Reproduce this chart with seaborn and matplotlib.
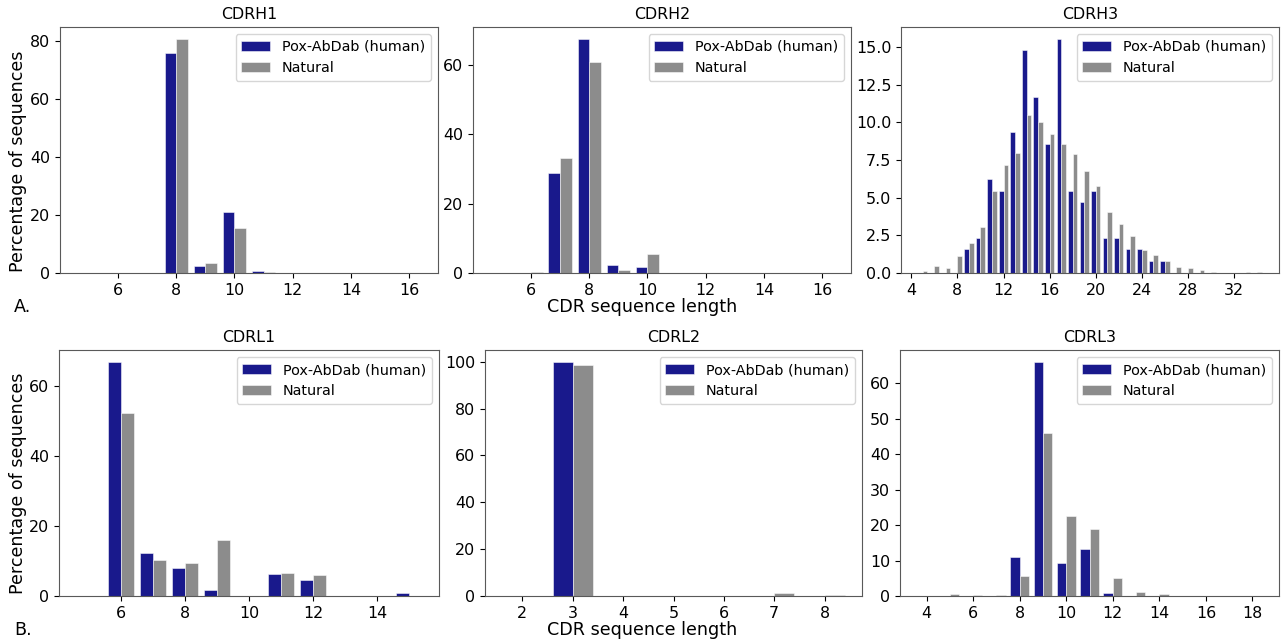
import numpy as np
import pandas as pd
import matplotlib
matplotlib.use("Agg")
import matplotlib.pyplot as plt
import seaborn as sns

# CDR length distributions (% of sequences)
cdrh1_len = list(range(5, 17))
cdrh1_pox = [0, 0, 0, 75.9, 2.4, 21.0, 0.8, 0, 0, 0, 0, 0]
cdrh1_nat = [0, 0, 0, 80.9, 3.4, 15.7, 0.3, 0.05, 0, 0, 0, 0]

cdrh2_len = list(range(5, 17))
cdrh2_pox = [0, 0, 28.8, 67.5, 2.4, 1.6, 0, 0, 0, 0, 0, 0]
cdrh2_nat = [0, 0.3, 33.1, 60.7, 0.9, 5.4, 0.05, 0, 0, 0, 0, 0]

cdrh3_len = list(range(5, 35))
cdrh3_pox = [0, 0, 0, 0, 1.56, 2.34, 6.25, 5.47, 9.38, 14.8, 11.7, 8.59, 15.55,
             5.47, 4.69, 5.47, 2.34, 2.34, 1.56, 1.56, 0.78, 0.78,
             0, 0, 0, 0, 0, 0, 0, 0]
cdrh3_nat = [0.1, 0.44, 0.3, 1.12, 2.0, 3.05, 5.43, 7.2, 7.95, 10.5, 10.05, 9.25, 8.58,
             7.92, 6.8, 5.77, 4.05, 3.27, 2.47, 1.54, 1.17, 0.79,
             0.37, 0.33, 0.22, 0.09, 0.03, 0.02, 0.07, 0.07]

cdrl1_len = list(range(5, 16))
cdrl1_pox = [0, 66.8, 12.4, 7.9, 1.7, 0, 6.3, 4.7, 0, 0, 0.8]
cdrl1_nat = [0, 52.1, 10.4, 9.3, 15.9, 0, 6.6, 6.0, 0, 0, 0]

cdrl2_len = list(range(2, 9))
cdrl2_pox = [0, 100.0, 0, 0, 0, 0, 0]
cdrl2_nat = [0, 98.4, 0, 0, 0, 1.4, 0.4]

cdrl3_len = list(range(4, 19))
cdrl3_pox = [0, 0, 0, 0, 10.9, 66.0, 9.3, 13.3, 0.8, 0, 0, 0, 0, 0, 0]
cdrl3_nat = [0, 0.56, 0.28, 0.37, 5.6, 45.9, 22.4, 19.0, 5.06, 1.03, 0.47, 0.05, 0.05, 0.03, 0.03]

series_names = ["Pox-AbDab (human)", "Natural"]

panels = [
    ("CDRH1", cdrh1_len, cdrh1_pox, cdrh1_nat, [6, 8, 10, 12, 14, 16]),
    ("CDRH2", cdrh2_len, cdrh2_pox, cdrh2_nat, [6, 8, 10, 12, 14, 16]),
    ("CDRH3", cdrh3_len, cdrh3_pox, cdrh3_nat, [4, 8, 12, 16, 20, 24, 28, 32]),
    ("CDRL1", cdrl1_len, cdrl1_pox, cdrl1_nat, [6, 8, 10, 12, 14]),
    ("CDRL2", cdrl2_len, cdrl2_pox, cdrl2_nat, [2, 3, 4, 5, 6, 7, 8]),
    ("CDRL3", cdrl3_len, cdrl3_pox, cdrl3_nat, [4, 6, 8, 10, 12, 14, 16, 18]),
]

W, H = 1284, 644
# axes boxes in pixels: left, top, right, bottom
boxes = [
    (60, 27, 438, 273), (473, 27, 851, 273), (901, 27, 1279, 273),
    (59, 350, 439, 596), (485, 350, 862, 596), (900, 350, 1279, 596),
]

fig = plt.figure(figsize=(W / 100, H / 100), dpi=100)

for (name, lens, pox, nat, xt), (l, t, r, b) in zip(panels, boxes):
    ax = fig.add_axes([l / W, 1 - b / H, (r - l) / W, (b - t) / H])
    df = pd.DataFrame({
        "length": lens * 2,
        "pct": list(pox) + list(nat),
        "dataset": [series_names[0]] * len(lens) + [series_names[1]] * len(lens),
    })
    sns.barplot(data=df, x="length", y="pct", hue="dataset", native_scale=True,
                palette=["navy", "grey"], saturation=1, alpha=0.9, errorbar=None,
                edgecolor="white", linewidth=0.4, ax=ax)
    ax.set_xticks(xt)
    ax.set_xlabel("")
    ax.set_ylabel("")
    ax.set_title(name, fontsize=11.4)
    ax.tick_params(labelsize=11.4)
    for sp in ax.spines.values():
        sp.set_color("0.35")
    leg = ax.get_legend()
    handles = leg.legend_handles
    labels = [tx.get_text() for tx in leg.get_texts()]
    leg.remove()
    ax.legend(handles, labels, loc="upper right", fontsize=10.4)

lab = 12.6
fig.text(642 / W, 1 - 307 / H, "CDR sequence length", ha="center", va="center", fontsize=lab)
fig.text(642 / W, 1 - 630 / H, "CDR sequence length", ha="center", va="center", fontsize=lab)
fig.text(18 / W, 1 - 161 / H, "Percentage of sequences", rotation=90, ha="center", va="center", fontsize=lab)
fig.text(18 / W, 1 - 483 / H, "Percentage of sequences", rotation=90, ha="center", va="center", fontsize=lab)
fig.text(14 / W, 1 - 307 / H, "A.", ha="left", va="center", fontsize=lab)
fig.text(14 / W, 1 - 630 / H, "B.", ha="left", va="center", fontsize=lab)

fig.savefig("out.png", dpi=100)
